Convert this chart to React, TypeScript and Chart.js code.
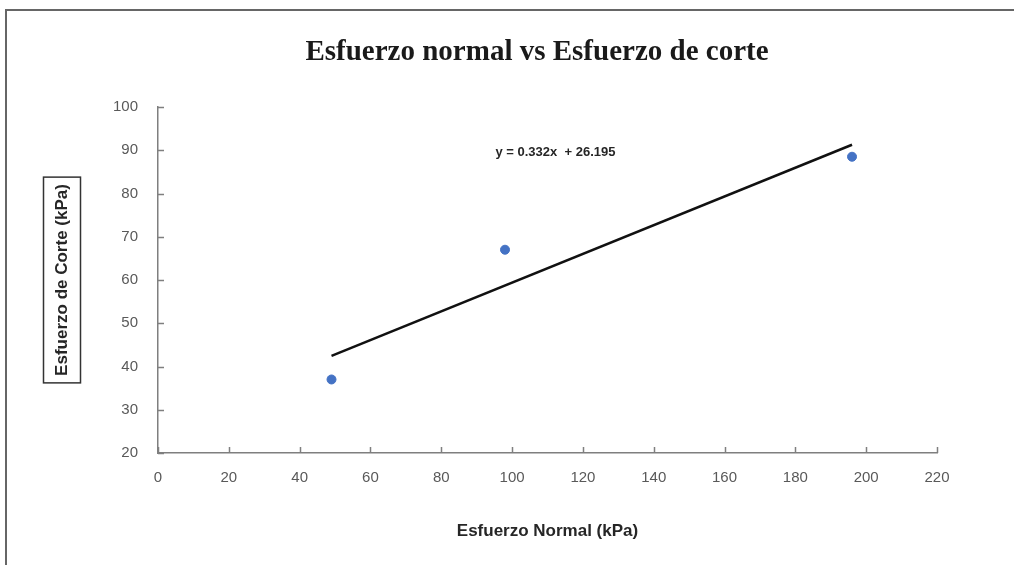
import { useEffect, useRef } from "react";
import { Chart, registerables } from "chart.js";

Chart.register(...registerables);

// ---- data ----
const normalStress = [49, 98, 196];
const shearStress = [37.0, 67.0, 88.5];
const trendX = [49, 196];
const trendY = [42.46, 91.27];
const equationLabel = "y = 0.332x  + 26.195";
const chartTitle = "Esfuerzo normal vs Esfuerzo de corte";
const xAxisTitle = "Esfuerzo Normal (kPa)";
const yAxisTitle = "Esfuerzo de Corte (kPa)";
const xMin = 0;
const xMax = 220;
const xStep = 20;
const yMin = 20;
const yMax = 100;
const yStep = 10;

const SANS = "'Liberation Sans', Arial, sans-serif";
const SERIF = "'Liberation Serif', 'Times New Roman', serif";

const decorPlugin = {
  id: "decor",
  afterDraw(chart: any) {
    const { ctx, chartArea, scales } = chart;
    const x = scales.x;
    const y = scales.y;
    ctx.save();
    // chart title
    ctx.font = `bold 29px ${SERIF}`;
    ctx.fillStyle = "#1a1a1a";
    ctx.textAlign = "center";
    ctx.textBaseline = "middle";
    ctx.fillText(chartTitle, 537, 53);
    // inward tick marks
    ctx.strokeStyle = "#7f7f7f";
    ctx.lineWidth = 1.5;
    x.ticks.forEach((t: any) => {
      const px = Math.round(x.getPixelForValue(t.value)) + 0.5;
      ctx.beginPath();
      ctx.moveTo(px, chartArea.bottom);
      ctx.lineTo(px, chartArea.bottom - 6);
      ctx.stroke();
    });
    y.ticks.forEach((t: any) => {
      const py = Math.round(y.getPixelForValue(t.value)) + 0.5;
      ctx.beginPath();
      ctx.moveTo(chartArea.left, py);
      ctx.lineTo(chartArea.left + 6, py);
      ctx.stroke();
    });
    // box around y-axis title
    const tOpts = y.options.title;
    const fontSize = tOpts.font.size;
    const lh = fontSize * 1.2;
    const cx = y.left + tOpts.padding.top + lh / 2;
    const cy = (chartArea.top + chartArea.bottom) / 2;
    ctx.font = `bold ${fontSize}px ${SANS}`;
    const w = ctx.measureText(yAxisTitle).width;
    ctx.strokeStyle = "#333333";
    ctx.lineWidth = 1.5;
    ctx.strokeRect(cx - 18.5, cy - w / 2 - 7, 37, w + 14);
    // trendline equation
    ctx.font = `bold 13px ${SANS}`;
    ctx.fillStyle = "#262626";
    ctx.textAlign = "left";
    ctx.textBaseline = "middle";
    ctx.fillText(equationLabel, x.getPixelForValue(95.3), y.getPixelForValue(89.4));
    ctx.restore();
  },
};

export default function App() {
  const canvasRef = useRef<HTMLCanvasElement | null>(null);

  useEffect(() => {
    if (!canvasRef.current) return;
    const chart = new Chart(canvasRef.current, {
      type: "scatter",
      data: {
        datasets: [
          {
            label: "Datos",
            data: normalStress.map((v, i) => ({ x: v, y: shearStress[i] })),
            backgroundColor: "#4472C4",
            borderColor: "#4472C4",
            pointRadius: 4.5,
            pointHoverRadius: 4.5,
            order: 1,
          },
          {
            type: "line",
            label: "Tendencia",
            data: trendX.map((v, i) => ({ x: v, y: trendY[i] })),
            borderColor: "#111111",
            borderWidth: 2.5,
            pointRadius: 0,
            fill: false,
            order: 2,
          } as any,
        ],
      },
      options: {
        responsive: false,
        animation: false,
        layout: { padding: { left: 0, right: 77, top: 107, bottom: 0 } },
        plugins: {
          legend: { display: false },
          tooltip: { enabled: false },
          title: { display: false },
        },
        scales: {
          x: {
            type: "linear",
            min: xMin,
            max: xMax,
            ticks: {
              stepSize: xStep,
              color: "#595959",
              font: { family: SANS, size: 15 },
              padding: 16,
            },
            grid: { display: false, drawTicks: false },
            border: { display: true, color: "#7f7f7f", width: 1.5 },
            title: {
              display: true,
              text: xAxisTitle,
              color: "#262626",
              font: { family: SANS, size: 17, weight: "bold" },
              padding: { top: 0, bottom: 23.8 },
            },
            afterFit: (s: any) => {
              s.height = 112;
            },
          },
          y: {
            type: "linear",
            min: yMin,
            max: yMax,
            ticks: {
              stepSize: yStep,
              color: "#595959",
              font: { family: SANS, size: 15 },
              padding: 20,
            },
            grid: { display: false, drawTicks: false },
            border: { display: true, color: "#7f7f7f", width: 1.5 },
            title: {
              display: true,
              text: yAxisTitle,
              color: "#262626",
              font: { family: SANS, size: 17, weight: "bold" },
              padding: { top: 51.8, bottom: 0 },
            },
            afterFit: (s: any) => {
              s.width = 158;
            },
          },
        },
      },
      plugins: [decorPlugin],
    });
    return () => chart.destroy();
  }, []);

  return (
    <div style={{ position: "absolute", left: 0, top: 0, width: 1014, height: 565, background: "#ffffff" }}>
      <div
        style={{
          position: "absolute",
          left: 5,
          top: 9,
          width: 1020,
          height: 570,
          borderLeft: "2px solid #666666",
          borderTop: "2px solid #666666",
        }}
      />
      <canvas
        ref={canvasRef}
        width={1014}
        height={565}
        style={{ position: "absolute", left: 0, top: 0, width: 1014, height: 565 }}
      />
    </div>
  );
}
